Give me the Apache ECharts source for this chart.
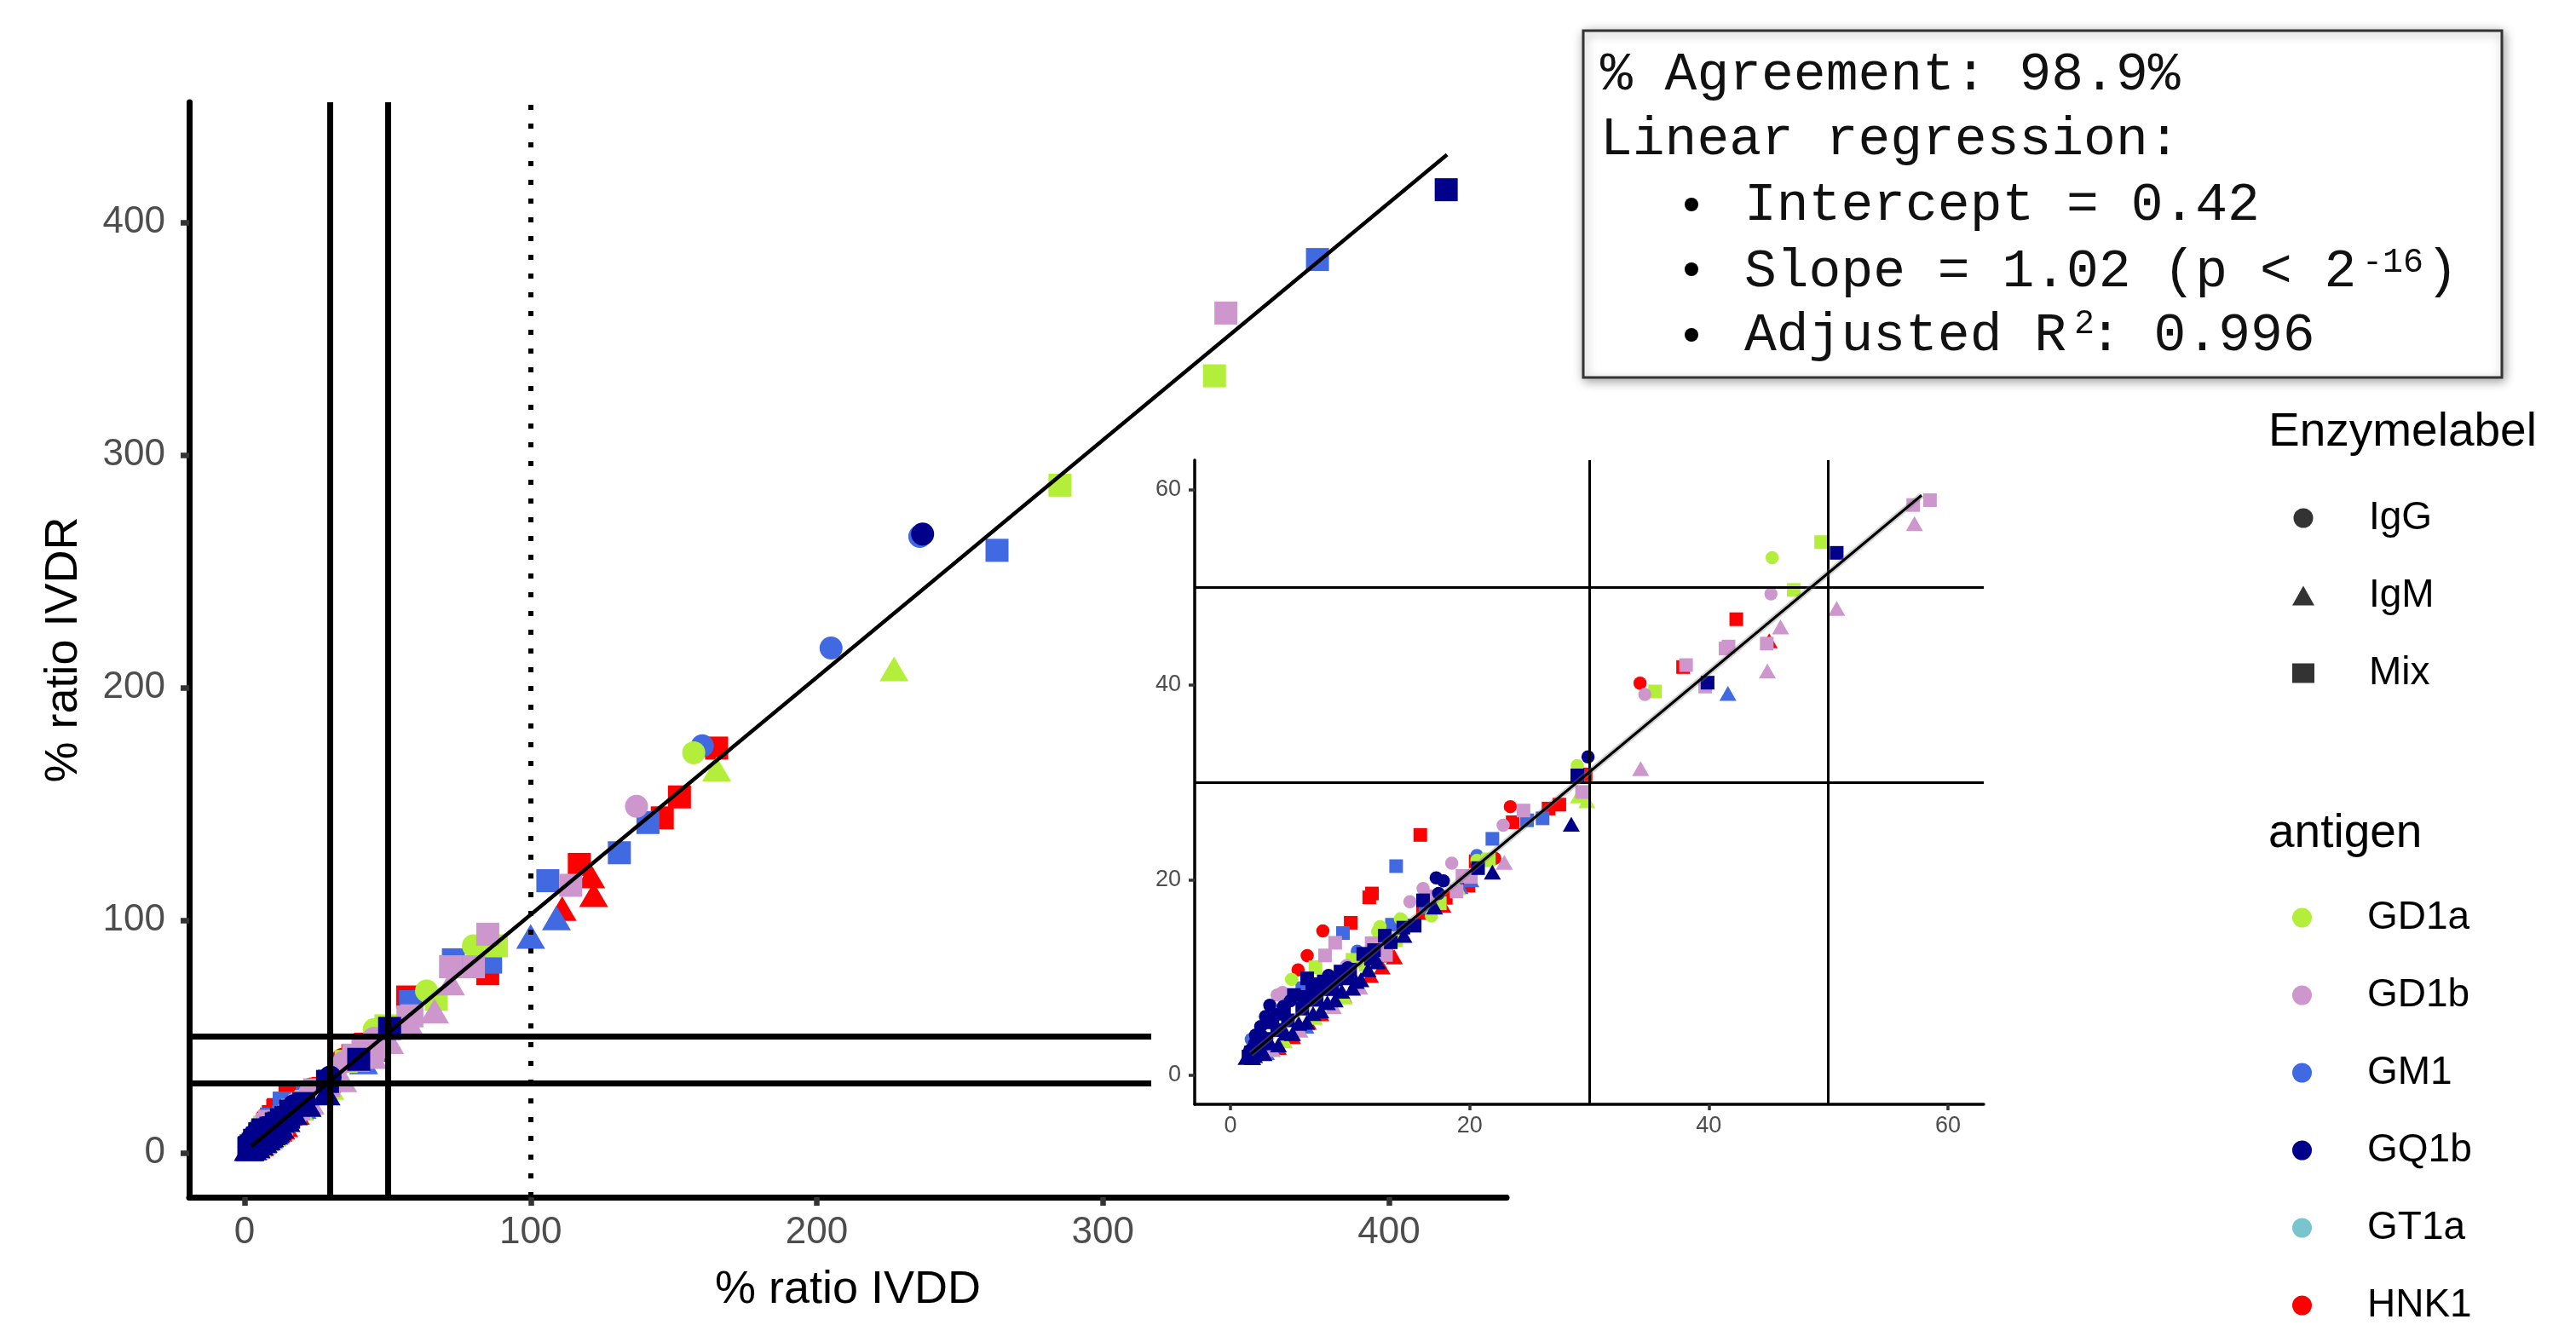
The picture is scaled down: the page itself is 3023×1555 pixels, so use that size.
<!DOCTYPE html>
<html>
<head>
<meta charset="utf-8">
<title>IVDR vs IVDD</title>
<script src="https://cdn.jsdelivr.net/npm/echarts@6/dist/echarts.min.js"></script>
<style>
html,body{margin:0;padding:0;background:#fff;}
#chart{width:3023px;height:1555px;}
</style>
</head>
<body>
<div id="chart"></div>
<script>
// ---------------- DATA ----------------
// each point: [% ratio IVDD, % ratio IVDR, enzymelabel index (0 IgG, 1 IgM, 2 Mix)]
const enzymeLabels = ['IgG', 'IgM', 'Mix'];
const antigenLegend = ['GD1a', 'GD1b', 'GM1', 'GQ1b', 'GT1a', 'HNK1'];
const antigenColors = {
  GD1a: '#B3EE3A', GD1b: '#CD96CD', GM1: '#4169E1',
  GQ1b: '#00008B', GT1a: '#7AC5CD', HNK1: '#FF0000'
};

const GD1a = [
  [339,334,2],[285,287,2],[227,208,1],[157,172,0],[165,165,1],[80,89,0],[88,89,2],[63.6,69.6,0],[67,66,2],
  [45.3,53.0,0],[49.4,54.6,2],[47.1,49.7,2],[35.5,39.3,2],[29.0,31.7,0],[29.8,28.1,1],[29.1,28.6,1],
  [21.5,22.0,2],[20.6,22.0,0],[21.6,22.1,2],[16.8,16.3,0],[14.2,16.0,0],[12.3,14.7,0],[12.5,15.2,0],[14.3,15.9,0],
  [13.85,13.8,2],[10.2,11.8,2],[7.1,11.05,2],[5.1,9.8,0],[9.5,8.0,1],[7.0,5.9,1],[4.5,3.5,1],[11.3,11.3,2],
  [8.4,9.4,0],[6.0,7.2,2],[17.5,17.6,2],[19.0,19.2,1]
];
const GD1b = [
  [343,361,2],[137,149,0],[114,115,2],[85,94,2],[72,80,2],[80,80,2],[72,73,1],[66.4,61,1],
  [58.5,58.9,2],[57.1,58.4,2],[57.2,56.5,1],[45.2,49.3,0],[50.7,47.8,1],[46.0,45.9,1],[44.85,44.2,2],
  [41.65,43.9,2],[41.4,43.7,2],[38.1,42.0,2],[44.9,41.4,1],[39.7,39.8,2],[34.65,39.0,0],[34.3,31.4,1],
  [29.4,29.0,2],[24.5,27.1,2],[22.8,25.6,0],[22.9,21.8,1],[18.5,21.7,0],[19.4,20.4,2],[20.1,20.3,2],
  [18.9,18.8,2],[16.1,19.1,0],[15.0,17.75,0],[8.75,13.55,2],[7.9,12.25,2],[4.35,8.45,0],[3.9,8.2,0],
  [12.8,13.1,2],[11.8,13.5,2],[9.7,11.2,0],[3.5,2.6,1],[5.8,4.6,1],[8.6,7.0,1],[10.8,9.0,1],[13.0,12.3,2],
  [16.8,18.3,2],[6.8,8.5,0]
];
const GM1 = [
  [375,384,2],[263,259,2],[236,265,0],[205,217,0],[160,175,0],[141,142,2],[131,129,2],[106,117,2],
  [109,101,1],[100,93,1],[73,83,2],[86,82,2],[58,65,2],
  [41.6,39.1,1],[24.8,26.1,2],[26.1,26.3,2],[21.9,24.2,2],[20.6,22.5,0],[20.1,20.0,1],[13.85,21.4,2],
  [9.4,14.55,2],[13.75,15.4,0],[13.5,15.4,2],[10.6,12.7,0],[6.0,8.9,2],[4.1,8.2,0],[1.73,3.66,0],
  [3.0,2.3,1],[6.3,5.0,1],[16.3,17.2,2],[19.2,19.3,1],[8.0,9.0,0]
];
const GT1a = [];
const HNK1 = [
  [165,174,2],[152,153,2],[146,144,2],[117,124,2],[121,119,1],[122,111,1],[111,105,1],[85,77,2],[57,67,2],
  [42.3,46.7,2],[45.05,44.5,1],[37.85,41.8,2],[34.25,40.15,0],[29.7,30.8,2],[23.4,27.5,0],[26.6,27.3,2],
  [27.5,27.7,2],[23.6,25.9,2],[22.1,22.2,0],[20.5,21.9,2],[19.9,19.4,2],[19.5,19.6,2],[18.0,18.15,2],
  [17.75,17.4,1],[15.87,24.6,2],[11.83,18.6,2],[11.6,18.2,2],[10.05,15.6,2],[7.72,14.76,0],[6.41,12.23,0],
  [5.65,10.78,0],[16.1,16.6,2],[13.5,12.3,1],[13.7,12.1,1],[12.67,11.07,1],[11.7,10.2,1],[9.46,8.17,1],
  [7.55,6.28,1],[6.5,5.4,1],[5.18,3.95,1],[4.0,2.8,1]
];
const GQ1b = [
  [420,414,2],[237,266,0],
  [50.7,53.5,2],[39.9,40.2,2],[29.9,32.6,0],[29.0,30.7,2],[28.5,25.7,1],[20.7,21.2,2],[21.9,20.8,1],
  [17.2,20.2,0],[17.8,19.9,0],[17.4,18.6,0],[16.1,17.9,2],[17.06,17.2,1],[15.4,15.3,2],[14.45,15.1,2],
  [12.9,14.27,2],[11.1,12.4,2],[11.25,12.4,2],[11.75,11.9,2],[9.2,10.6,2],[7.8,9.6,2],[6.84,8.6,2],
  [6.41,9.9,2],[5.3,8.2,2],[4.47,6.28,2],[3.5,5.4,2],[3.28,7.15,0],[2.92,6.0,0],[2.52,4.97,0],[2.09,4.1,0],
  [10.9,9.76,1],[10.2,8.9,1],[8.75,7.7,1],[7.55,6.57,1],[6.37,5.4,1],[5.18,4.25,1],[4.0,3.1,1],[2.8,2.2,1],
  [1.85,1.77,1],[1.3,1.8,1],[9.8,9.9,2],[8.5,8.8,2],[7.2,7.7,2],[6.0,6.8,2],[4.8,5.6,2],[3.9,4.6,2],
  [3.0,3.7,2],[2.3,3.0,2],[1.7,2.3,2],[2.0,2.0,1],[2.5,2.6,1],[3.3,3.3,1],[4.6,4.3,1],[5.7,5.3,1],
  [6.9,6.3,1],[8.1,7.4,1],[9.3,8.6,1],[10.5,9.6,1],[11.5,10.8,1],[12.3,11.6,1],[3.8,6.2,0],[4.4,7.0,0],
  [5.0,7.6,0],[6.2,8.0,2],[7.5,8.8,2],[8.8,9.8,2],[10.0,10.8,2],[12.0,12.8,2],[13.4,13.6,2],[14.5,14.3,1],
  [1.6,2.5,0],[2.0,3.2,0],[2.6,4.0,0],[1.5,1.9,2],[9.8,11.0,0],[8.2,10.2,0],[7.0,9.3,2]
];
const antigenData = { GD1a, GD1b, GM1, GT1a, HNK1, GQ1b };
const drawOrder = ['HNK1', 'GM1', 'GD1a', 'GT1a', 'GD1b', 'GQ1b'];

// fitted regression line endpoints (intercept 0.42, slope 1.02)
const regMain = [[2.4, 2.87], [420.3, 429.1]];
const regInset = [[1.7, 2.15], [57.8, 59.4]];

// axis ticks
const mainTicks = [0, 100, 200, 300, 400];
const insetTicks = [0, 20, 40, 60];
const mainXRange = [-19.36, 441.1];
const mainYRange = [-19.05, 451.6];
const insetRange = [-3, 63];

// reference lines
const cutoffs = [30, 50];
const dottedX = 100;

// annotation text
const annotLines = ['% Agreement: 98.9%', 'Linear regression:'];
const bulletLines = ['Intercept = 0.42', 'Slope = 1.02 (p < 2', 'Adjusted R'];

// ---------------- CHART ----------------
const SHAPES = ['circle', 'triangle', 'rect'];
const MAIN_SIZE = [27, [34, 29], 27];
const INSET_SIZE = [15.5, [20, 17.5], 16];
const FONT = 'Liberation Sans';
const MONO = 'Liberation Mono';

function scatter(name, gi) {
  return {
    type: 'scatter', name: name, xAxisIndex: gi, yAxisIndex: gi,
    data: antigenData[name],
    symbol: function (v) { return SHAPES[v[2]]; },
    symbolSize: function (v) { return gi === 0 ? MAIN_SIZE[v[2]] : INSET_SIZE[v[2]]; },
    itemStyle: { color: antigenColors[name], opacity: 1 },
    clip: true, silent: true, z: 2, animation: false
  };
}

function axisCommon(gi, min, max, ticks, isX) {
  const main = gi === 0;
  return {
    type: 'value', gridIndex: gi, min: min, max: max,
    axisLine: { show: true, onZero: false, lineStyle: { color: '#000', width: main ? 7 : 3.5 } },
    axisTick: { show: true, customValues: ticks, length: main ? 10 : 7, lineStyle: { color: '#333', width: main ? 6.5 : 3.5 } },
    axisLabel: { customValues: ticks, fontSize: main ? 44 : 27, color: '#4D4D4D', fontFamily: FONT,
                 margin: main ? (isX ? 20 : 28) : (isX ? 12 : 16) },
    splitLine: { show: false }
  };
}

const series = [];
[0, 1].forEach(function (gi) {
  drawOrder.forEach(function (n) { series.push(scatter(n, gi)); });
});

const thick = { color: '#000', width: 7, type: 'solid' };
series.push({
  type: 'line', name: 'fitMain', xAxisIndex: 0, yAxisIndex: 0, data: regMain,
  symbol: 'none', showSymbol: false, silent: true, z: 6, animation: false,
  lineStyle: { color: '#000', width: 4.5 },
  markLine: {
    silent: true, symbol: ['none', 'none'], label: { show: false }, animation: false,
    emphasis: { disabled: true },
    data: [
      { xAxis: cutoffs[0], lineStyle: thick },
      { xAxis: cutoffs[1], lineStyle: thick },
      { xAxis: dottedX, lineStyle: { color: '#000', width: 6, type: [6, 16] } },
      [{ coord: [mainXRange[0], cutoffs[0]], lineStyle: thick }, { coord: [316.9, cutoffs[0]] }],
      [{ coord: [mainXRange[0], cutoffs[1]], lineStyle: thick }, { coord: [316.9, cutoffs[1]] }]
    ]
  }
});
const thin = { color: '#000', width: 3, type: 'solid' };
// faint confidence band under the inset fit
series.push({
  type: 'line', name: 'bandInset', xAxisIndex: 1, yAxisIndex: 1, data: regInset,
  symbol: 'none', showSymbol: false, silent: true, z: 5, animation: false,
  lineStyle: { color: 'rgba(120,120,120,0.35)', width: 7 }
});
series.push({
  type: 'line', name: 'fitInset', xAxisIndex: 1, yAxisIndex: 1, data: regInset,
  symbol: 'none', showSymbol: false, silent: true, z: 6, animation: false,
  lineStyle: { color: '#000', width: 3 },
  markLine: {
    silent: true, symbol: ['none', 'none'], label: { show: false }, animation: false,
    emphasis: { disabled: true },
    data: [
      { xAxis: cutoffs[0], lineStyle: thin },
      { xAxis: cutoffs[1], lineStyle: thin },
      { yAxis: cutoffs[0], lineStyle: thin },
      { yAxis: cutoffs[1], lineStyle: thin }
    ]
  }
});
// legend-only series for the shape legend
enzymeLabels.forEach(function (e, i) {
  series.push({ type: 'scatter', name: e, data: [], symbol: SHAPES[i], itemStyle: { color: '#000' } });
});

const dy = 8;
const graphics = [
  { type: 'rect', z: 100, shape: { x: 1858, y: 36, width: 1078, height: 407 },
    style: { fill: '#fff', stroke: '#333', lineWidth: 3, shadowBlur: 12,
             shadowColor: 'rgba(0,0,0,0.35)', shadowOffsetX: 2, shadowOffsetY: 3 } },
  { type: 'text', z: 101, x: 1878, y: 80 + dy, style: { text: annotLines[0], fontFamily: MONO, fontSize: 63, fill: '#111', verticalAlign: 'middle' } },
  { type: 'text', z: 101, x: 1878, y: 156 + dy, style: { text: annotLines[1], fontFamily: MONO, fontSize: 63, fill: '#111', verticalAlign: 'middle' } },
  { type: 'text', z: 101, x: 2047, y: 233 + dy, style: { text: bulletLines[0], fontFamily: MONO, fontSize: 63, fill: '#111', verticalAlign: 'middle' } },
  { type: 'text', z: 101, x: 2047, y: 311 + dy, style: { text: bulletLines[1], fontFamily: MONO, fontSize: 63, fill: '#111', verticalAlign: 'middle' } },
  { type: 'text', z: 101, x: 2772, y: 300 + dy, style: { text: '-16', fontFamily: MONO, fontSize: 40, fill: '#111', verticalAlign: 'middle' } },
  { type: 'text', z: 101, x: 2847, y: 311 + dy, style: { text: ')', fontFamily: MONO, fontSize: 63, fill: '#111', verticalAlign: 'middle' } },
  { type: 'text', z: 101, x: 2047, y: 386 + dy, style: { text: bulletLines[2], fontFamily: MONO, fontSize: 63, fill: '#111', verticalAlign: 'middle' } },
  { type: 'text', z: 101, x: 2434, y: 372 + dy, style: { text: '2', fontFamily: MONO, fontSize: 40, fill: '#111', verticalAlign: 'middle' } },
  { type: 'text', z: 101, x: 2452, y: 386 + dy, style: { text: ': 0.996', fontFamily: MONO, fontSize: 63, fill: '#111', verticalAlign: 'middle' } },
  { type: 'circle', z: 101, shape: { cx: 1985, cy: 235 + 5, r: 8 }, style: { fill: '#000' } },
  { type: 'circle', z: 101, shape: { cx: 1985, cy: 311 + 5, r: 8 }, style: { fill: '#000' } },
  { type: 'circle', z: 101, shape: { cx: 1985, cy: 388 + 5, r: 8 }, style: { fill: '#000' } },
  { type: 'text', x: 2662, y: 508, style: { text: 'Enzymelabel', fontFamily: FONT, fontSize: 55, fill: '#000', verticalAlign: 'middle' } },
  { type: 'text', x: 2662, y: 979, style: { text: 'antigen', fontFamily: FONT, fontSize: 55, fill: '#000', verticalAlign: 'middle' } }
];

const option = {
  animation: false,
  backgroundColor: '#fff',
  textStyle: { fontFamily: FONT },
  grid: [
    { left: 222, top: 120, width: 1546, height: 1285 },
    { left: 1402, top: 540, width: 926, height: 756 }
  ],
  xAxis: [
    Object.assign(axisCommon(0, mainXRange[0], mainXRange[1], mainTicks, true), {
      name: '% ratio IVDD', nameLocation: 'middle', nameGap: 82,
      nameTextStyle: { fontSize: 54, color: '#000', fontFamily: FONT }
    }),
    axisCommon(1, insetRange[0], insetRange[1], insetTicks, true)
  ],
  yAxis: [
    Object.assign(axisCommon(0, mainYRange[0], mainYRange[1], mainTicks, false), {
      name: '% ratio IVDR', nameLocation: 'middle', nameGap: 120,
      nameTextStyle: { fontSize: 54, color: '#000', fontFamily: FONT }
    }),
    axisCommon(1, insetRange[0], insetRange[1], insetTicks, false)
  ],
  legend: [
    { orient: 'vertical', left: 2690, top: 585, padding: 0, height: 400,
      itemWidth: 26, itemHeight: 23, itemGap: 45, selectedMode: false,
      data: [{ name: 'IgG', icon: 'circle' }, { name: 'IgM', icon: 'triangle' }, { name: 'Mix', icon: 'rect' }],
      textStyle: { fontSize: 46, color: '#000', lineHeight: 46, fontFamily: FONT, padding: [0, 0, 0, 59] } },
    { orient: 'vertical', left: 2690, top: 1054, padding: 0, height: 700,
      itemWidth: 25, itemHeight: 23, itemGap: 45, selectedMode: false,
      data: antigenLegend.map(function (n) { return { name: n, icon: 'circle' }; }),
      textStyle: { fontSize: 46, color: '#000', lineHeight: 46, fontFamily: FONT, padding: [0, 0, 0, 59] } }
  ],
  graphic: graphics,
  series: series
};

const chart = echarts.init(document.getElementById('chart'), null, { renderer: 'canvas' });
chart.setOption(option);
</script>
</body>
</html>
